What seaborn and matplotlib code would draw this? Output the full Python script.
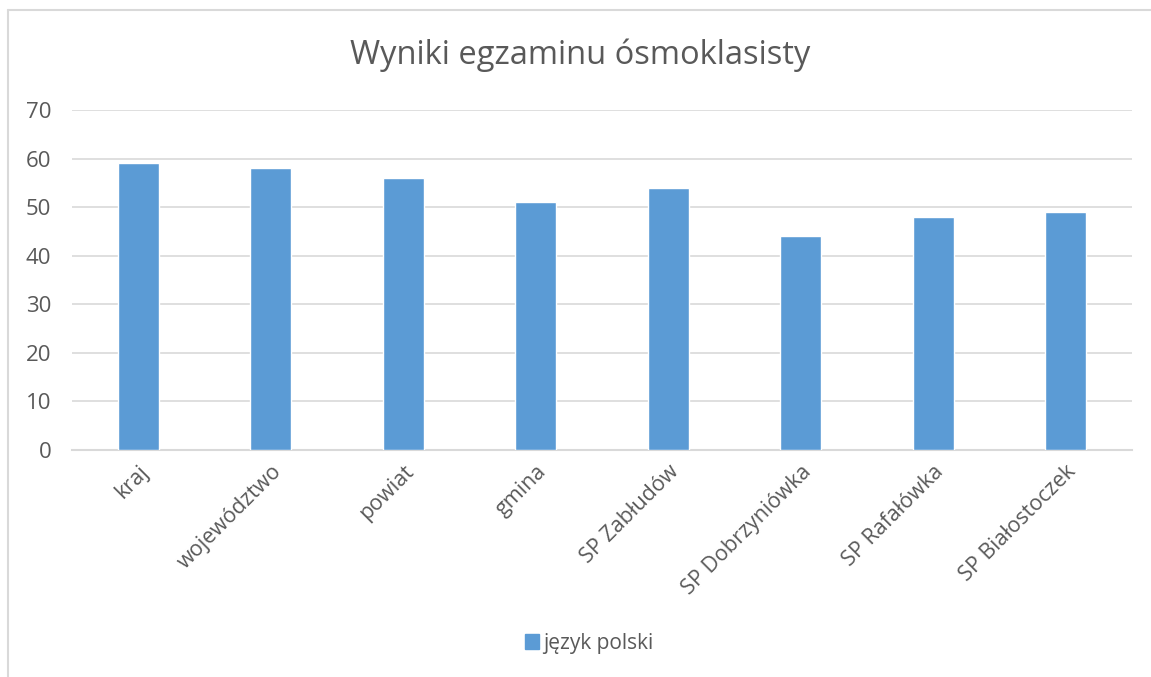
import pandas as pd
import seaborn as sns
import matplotlib.pyplot as plt
from matplotlib.lines import Line2D
from matplotlib.patches import Patch

categories = ["kraj", "województwo", "powiat", "gmina", "SP Zabłudów",
              "SP Dobrzyniówka", "SP Rafałówka", "SP Białostoczek"]
values = [59, 58, 56, 51, 54, 44, 48, 49]
series_name = "język polski"
y_ticks = [0, 10, 20, 30, 40, 50, 60, 70]

BAR = "#5b9bd5"
TXT = "#595959"
GRID = "#d9d9d9"

sns.set_theme(style="white")
plt.rcParams['font.family'] = ['Open Sans', 'DejaVu Sans']

df = pd.DataFrame({"kategoria": categories, "wynik": values})

fig = plt.figure(figsize=(11.51, 6.77), dpi=100)
ax = fig.add_axes([72 / 1151, 1 - 450 / 677, (1132 - 72) / 1151, 340 / 677])

sns.barplot(data=df, x="kategoria", y="wynik", color=BAR, width=0.31,
            saturation=1, ax=ax, zorder=3)

ax.set_ylim(0, 70)
ax.set_yticks(y_ticks)
ax.set_xlim(-0.5, len(categories) - 0.5)
ax.yaxis.grid(True, color=GRID, linewidth=1.2, zorder=0)
ax.set_axisbelow(True)
for s in ["top", "right", "left"]:
    ax.spines[s].set_visible(False)
ax.spines["bottom"].set_color(GRID)
ax.spines["bottom"].set_linewidth(1.5)
ax.set_xlabel("")
ax.set_ylabel("")
ax.tick_params(axis="y", labelsize=16, colors=TXT, length=0, pad=15)
ax.tick_params(axis="x", labelsize=15.5, colors=TXT, length=0, pad=8)
plt.setp(ax.get_xticklabels(), rotation=45, ha="right", rotation_mode="anchor")

fig.text(0.504, 1 - 55 / 677, "Wyniki egzaminu ósmoklasisty", ha="center", va="center",
         fontsize=23.5, color=TXT)

handle = Patch(facecolor=BAR, edgecolor=BAR)
fig.legend([handle], [series_name], loc="center", bbox_to_anchor=(0.512, 1 - 643 / 677),
           frameon=False, fontsize=15, labelcolor=TXT, handlelength=0.7, handleheight=0.7,
           handletextpad=0.2)

# chart border
bc = "#d9d9d9"
fig.add_artist(Line2D([8 / 1151, 8 / 1151], [0, 1 - 10 / 677], color=bc, lw=1.5))
fig.add_artist(Line2D([8 / 1151, 1151 / 1151], [1 - 10 / 677, 1 - 10 / 677], color=bc, lw=1.5))

fig.savefig("out.png", dpi=100, facecolor="white")
